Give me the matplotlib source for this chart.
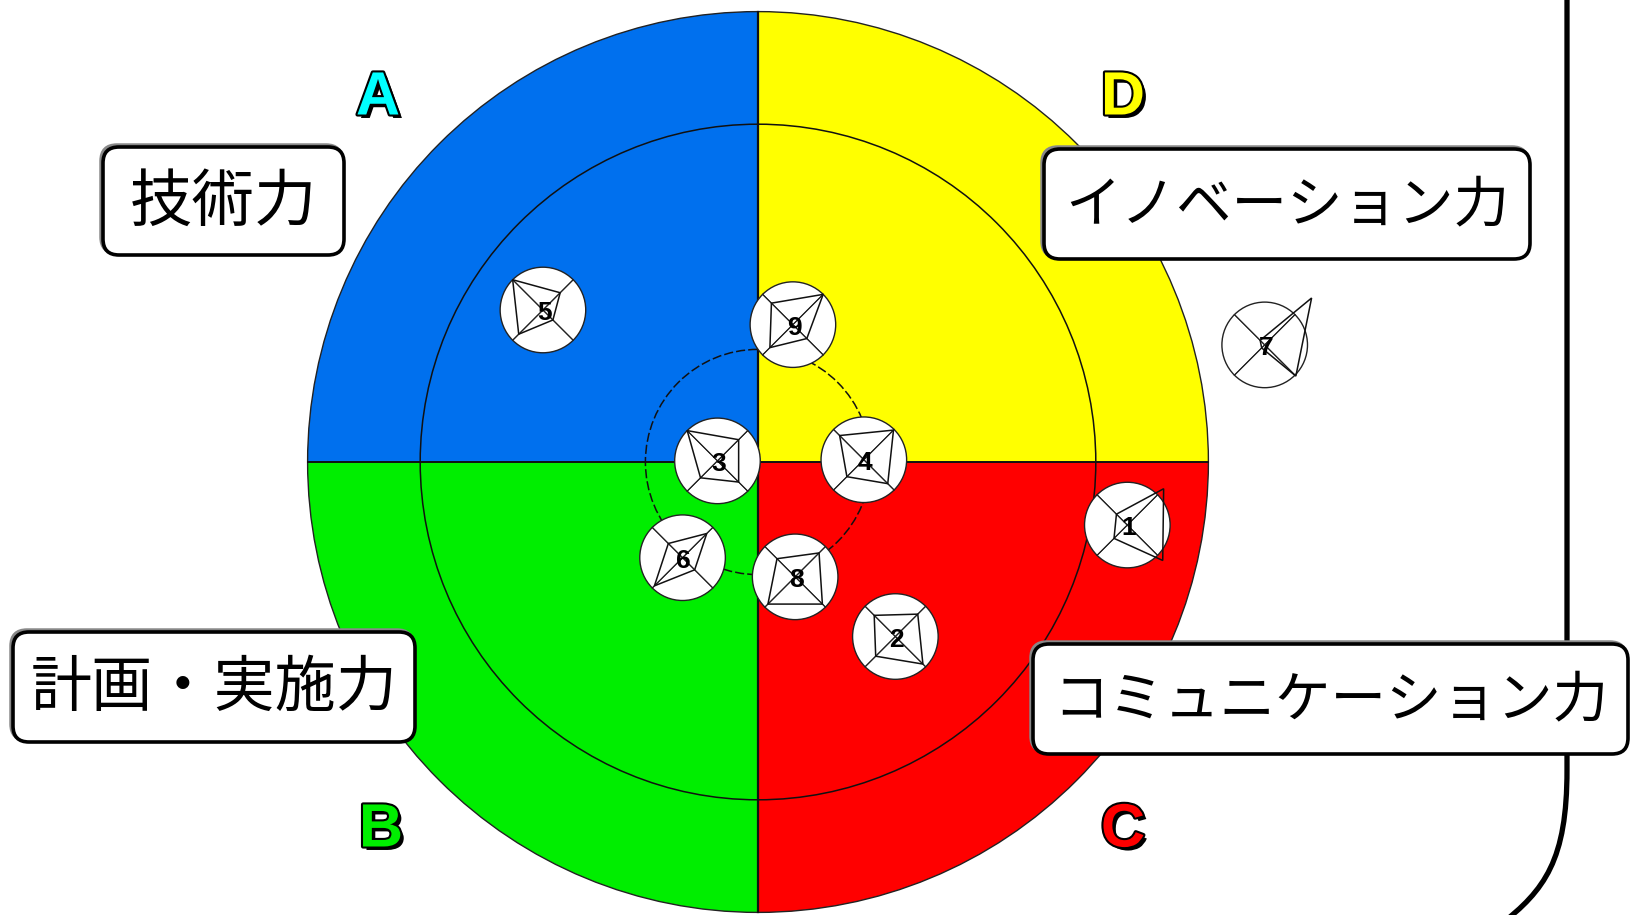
import matplotlib
matplotlib.use("Agg")
import numpy as np
import matplotlib.pyplot as plt
from matplotlib.patches import Wedge, Circle, FancyBboxPatch, Polygon, PathPatch
from matplotlib.path import Path
import matplotlib.patheffects as pe

# ---------------- data ----------------
quadrant_letters = ["A", "D", "C", "B"]
quadrant_names = ["技術力", "イノベーション力", "コミュニケーション力", "計画・実施力"]
quadrant_colors = ["#0070EE", "#FFFF00", "#FF0000", "#00EE00"]
letter_colors = ["#00FFFF", "#FFFF00", "#FF0000", "#00EE00"]
ring_radii = [1.0, 3.0, 4.0]

point_ids = [1, 2, 3, 4, 5, 6, 7, 8, 9]
point_x = [3.28, 1.22, -0.36, 0.94, -1.91, -0.67, 4.50, 0.33, 0.31]
point_y = [-0.56, -1.55, 0.01, 0.02, 1.35, -0.85, 1.04, -1.02, 1.22]
# mini-radar scores (fraction of marker radius) per direction
score_A = [0.36, 0.70, 1.00, 0.80, 1.00, 0.47, 0.15, 0.60, 0.71]  # upper-left
score_D = [1.20, 0.74, 0.70, 0.98, 0.57, 0.80, 1.55, 0.79, 1.00]  # upper-right
score_C = [1.17, 0.91, 0.70, 0.79, 0.33, 0.40, 1.03, 0.90, 0.46]  # lower-right
score_B = [0.44, 0.65, 0.56, 0.56, 0.80, 0.93, 0.10, 0.90, 0.76]  # lower-left

# ---------------- figure ----------------
W, H = 1635, 915
fig = plt.figure(figsize=(W / 100, H / 100), dpi=100)
fig.patch.set_facecolor("white")

cx_px, cy_px, unit = 758.0, 462.0, 112.6
ax = fig.add_axes([0, 0, 1, 1])
ax.set_xlim(-cx_px / unit, (W - cx_px) / unit)
ax.set_ylim(-(H - cy_px) / unit, cy_px / unit)
ax.axis("off")

R = ring_radii[-1]
starts = [90, 0, 270, 180]
for st, col in zip(starts, quadrant_colors):
    ax.add_patch(Wedge((0, 0), R, st, st + 90, facecolor=col, edgecolor="none", zorder=1))

ax.add_patch(Circle((0, 0), R, facecolor="none", edgecolor="#222222", lw=1.0, zorder=2))
ax.add_patch(Circle((0, 0), ring_radii[1], facecolor="none", edgecolor="#111111", lw=1.1, zorder=2))
ax.add_patch(Circle((0, 0), ring_radii[0], facecolor="none", edgecolor="#111111", lw=1.1,
                    linestyle=(0, (6, 2)), zorder=2))
ax.plot([0, 0], [-R, R], color="#111111", lw=1.6, zorder=2)
ax.plot([-R, R], [0, 0], color="#111111", lw=1.4, zorder=2)

# markers
mr = 0.38
diag = np.array([[-1, 1], [1, 1], [1, -1], [-1, -1]]) / np.sqrt(2)
for i, pid in enumerate(point_ids):
    x0, y0 = point_x[i], point_y[i]
    inside = np.hypot(x0, y0) < R
    ax.add_patch(Circle((x0, y0), mr, facecolor="white" if inside else "none",
                        edgecolor="#222222", lw=1.0, zorder=5))
    for d in diag:
        ax.plot([x0 - d[0] * mr, x0 + d[0] * mr], [y0 - d[1] * mr, y0 + d[1] * mr],
                color="#222222", lw=0.8, zorder=6)
    vals = [score_A[i], score_D[i], score_C[i], score_B[i]]
    verts = [(x0 + d[0] * mr * v, y0 + d[1] * mr * v) for d, v in zip(diag, vals)]
    ax.add_patch(Polygon(verts, closed=True, facecolor="none", edgecolor="#111111",
                         lw=1.1, zorder=7))
    ax.text(x0 + 0.01, y0 - 0.03, str(pid), ha="center", va="center", fontsize=19,
            fontweight="bold", family="Liberation Sans", color="black", zorder=8)

# ---------------- overlay in pixel coords ----------------
ax2 = fig.add_axes([0, 0, 1, 1])
ax2.set_xlim(0, W)
ax2.set_ylim(H, 0)
ax2.axis("off")
ax2.patch.set_alpha(0)

# right border line with curved bottom
verts = [(1567, -5), (1567, 770), (1567, 860), (1545, 890), (1500, 925)]
codes = [Path.MOVETO, Path.LINETO, Path.CURVE4, Path.CURVE4, Path.CURVE4]
ax2.add_patch(PathPatch(Path(verts, codes), facecolor="none", edgecolor="black", lw=3.8, zorder=1))

# label boxes
boxes = [(103, 147, 241, 108), (1044, 149, 486, 110), (1033, 644, 595, 110), (13, 632, 402, 110)]
label_sizes = [45, 40, 40, 44]
for (bx, by, bw, bh), name, fs in zip(boxes, quadrant_names, label_sizes):
    ax2.add_patch(FancyBboxPatch((bx - 2, by - 2), bw, bh,
                                 boxstyle="round,pad=0,rounding_size=16",
                                 facecolor="none", edgecolor="#888888", lw=2.5, zorder=3))
    ax2.add_patch(FancyBboxPatch((bx, by), bw, bh, boxstyle="round,pad=0,rounding_size=16",
                                 facecolor="white", edgecolor="black", lw=2.6, zorder=4))
    ax2.text(bx + bw / 2, by + bh / 2 + 2, name, ha="center", va="center", fontsize=fs,
             fontweight="normal", family=["Noto Sans CJK JP", "DejaVu Sans"],
             color="black", zorder=5)

# quadrant letters
letter_pos = [(378, 99), (1123, 99), (1123, 831), (381, 831)]
for (lx, ly), letter, col in zip(letter_pos, quadrant_letters, letter_colors):
    t = ax2.text(lx, ly, letter, ha="center", va="center", fontsize=44, fontweight="bold",
                 family="Liberation Sans", color=col, zorder=6)
    t.set_path_effects([pe.SimplePatchShadow(offset=(2.5, -2.5), shadow_rgbFace="black", alpha=1.0),
                        pe.Stroke(linewidth=3, foreground="black"), pe.Normal()])

fig.savefig("out.png", dpi=100, facecolor="white")
